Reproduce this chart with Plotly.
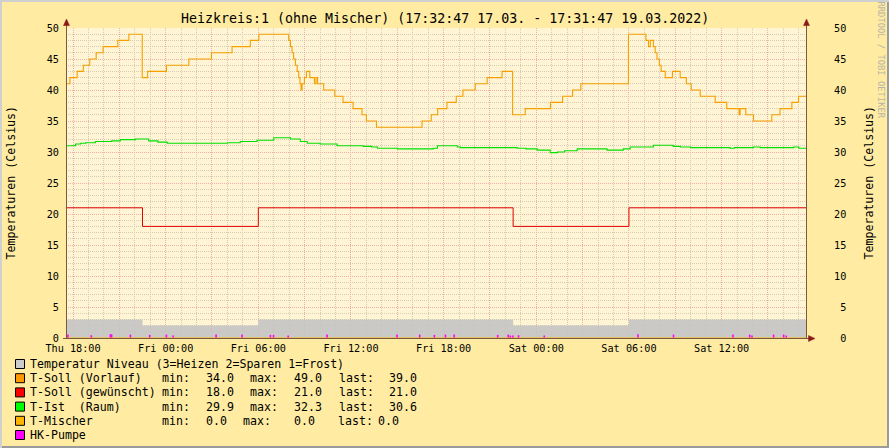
import plotly.graph_objects as go

# ---------------- data ----------------
T_START = "2022-03-17 17:32:47"
T_END = "2022-03-19 17:31:47"

niveau_t = ["2022-03-17 17:32:47", "2022-03-17 22:30", "2022-03-18 06:00",
            "2022-03-18 22:30", "2022-03-19 06:00", "2022-03-19 17:31:47"]
niveau_v = [3, 2, 3, 2, 3, 3]

gew_t = niveau_t
gew_v = [21, 18, 21, 18, 21, 21]

vorlauf_t = [
    "2022-03-17 17:32:47", "2022-03-17 17:48", "2022-03-17 18:16", "2022-03-17 18:40",
    "2022-03-17 19:05", "2022-03-17 19:30", "2022-03-17 19:57", "2022-03-17 20:54",
    "2022-03-17 21:37", "2022-03-17 22:29", "2022-03-17 22:50", "2022-03-18 00:03",
    "2022-03-18 01:30", "2022-03-18 02:58", "2022-03-18 04:18", "2022-03-18 05:29",
    "2022-03-18 06:02", "2022-03-18 07:58", "2022-03-18 08:05", "2022-03-18 08:11",
    "2022-03-18 08:17", "2022-03-18 08:24", "2022-03-18 08:31", "2022-03-18 08:37",
    "2022-03-18 08:42", "2022-03-18 08:46", "2022-03-18 08:50", "2022-03-18 08:59",
    "2022-03-18 09:07", "2022-03-18 09:20", "2022-03-18 09:38", "2022-03-18 09:44",
    "2022-03-18 09:50", "2022-03-18 10:14", "2022-03-18 10:57", "2022-03-18 11:29",
    "2022-03-18 12:08", "2022-03-18 12:43", "2022-03-18 13:00", "2022-03-18 13:39",
    "2022-03-18 16:36", "2022-03-18 17:12", "2022-03-18 17:37", "2022-03-18 18:13",
    "2022-03-18 18:49", "2022-03-18 19:15", "2022-03-18 20:03", "2022-03-18 20:49",
    "2022-03-18 21:47", "2022-03-18 22:28", "2022-03-18 23:17", "2022-03-19 00:55",
    "2022-03-19 01:42", "2022-03-19 02:21", "2022-03-19 02:53", "2022-03-19 05:58",
    "2022-03-19 07:06", "2022-03-19 07:16", "2022-03-19 07:23", "2022-03-19 07:35",
    "2022-03-19 07:42", "2022-03-19 07:49", "2022-03-19 07:58", "2022-03-19 08:05",
    "2022-03-19 08:21", "2022-03-19 08:49", "2022-03-19 09:19", "2022-03-19 09:43",
    "2022-03-19 10:02", "2022-03-19 10:37", "2022-03-19 11:35", "2022-03-19 12:20",
    "2022-03-19 13:08", "2022-03-19 13:12", "2022-03-19 13:34", "2022-03-19 14:04",
    "2022-03-19 15:15", "2022-03-19 15:47", "2022-03-19 16:33", "2022-03-19 16:59",
    "2022-03-19 17:31:47",
]
vorlauf_v = [
    41, 42, 43, 44, 45, 46, 47, 48, 49, 42, 43, 44, 45, 46, 47, 48,
    49, 48, 47, 46, 45, 44, 43, 42, 41, 40, 41, 42, 43, 42, 41, 42,
    41, 40, 39, 38, 37, 36, 35, 34, 35, 36, 37, 38, 39, 40, 41, 42,
    43, 36, 37, 38, 39, 40, 41, 49, 48, 47, 48, 47, 46, 45, 44, 43,
    42, 43, 42, 41, 40, 39, 38, 37, 36, 37, 36, 35, 36, 37, 38, 39,
    39,
]

ist_t = [
    "2022-03-17 17:32:47", "2022-03-17 18:10", "2022-03-17 18:30", "2022-03-17 18:49",
    "2022-03-17 19:27", "2022-03-17 20:30", "2022-03-17 21:04", "2022-03-17 22:03",
    "2022-03-17 22:54", "2022-03-17 23:30", "2022-03-18 00:06", "2022-03-18 04:00",
    "2022-03-18 04:50", "2022-03-18 05:55", "2022-03-18 07:00", "2022-03-18 08:05",
    "2022-03-18 08:43", "2022-03-18 09:10", "2022-03-18 10:00", "2022-03-18 11:06",
    "2022-03-18 12:48", "2022-03-18 13:20", "2022-03-18 13:43", "2022-03-18 15:00",
    "2022-03-18 17:20", "2022-03-18 17:36", "2022-03-18 18:53", "2022-03-18 19:05",
    "2022-03-18 22:46", "2022-03-18 23:20", "2022-03-19 00:04", "2022-03-19 00:54",
    "2022-03-19 01:22", "2022-03-19 01:50", "2022-03-19 02:39", "2022-03-19 04:35",
    "2022-03-19 05:38", "2022-03-19 06:05", "2022-03-19 07:35", "2022-03-19 08:52",
    "2022-03-19 09:20", "2022-03-19 10:00", "2022-03-19 12:33", "2022-03-19 12:50",
    "2022-03-19 14:04", "2022-03-19 14:30", "2022-03-19 16:40", "2022-03-19 17:00",
    "2022-03-19 17:31:47",
]
ist_v = [
    31.0, 31.3, 31.4, 31.5, 31.7, 31.8, 32.0, 32.1,
    31.8, 31.6, 31.4, 31.5, 31.7, 31.9, 32.3, 32.1,
    31.7, 31.4, 31.3, 31.0, 30.9, 30.8, 30.6, 30.5,
    30.6, 31.0, 30.8, 30.7, 30.6, 30.5, 30.3, 29.9,
    30.0, 30.2, 30.5, 30.3, 30.5, 30.8, 31.1, 30.9,
    30.8, 30.7, 30.6, 30.7, 30.8, 30.7, 30.8, 30.6,
    30.6,
]

mischer_t = [T_START, T_END]
mischer_v = [0.0, 0.0]

pumpe_t = [
    "2022-03-17 17:40", "2022-03-17 19:11", "2022-03-17 20:25", "2022-03-17 20:30",
    "2022-03-17 21:43", "2022-03-17 22:58", "2022-03-18 00:03", "2022-03-18 00:29",
    "2022-03-18 03:16", "2022-03-18 04:57", "2022-03-18 06:47", "2022-03-18 06:59",
    "2022-03-18 07:56", "2022-03-18 10:27", "2022-03-18 14:59", "2022-03-18 16:27",
    "2022-03-18 17:24", "2022-03-18 18:07", "2022-03-18 18:41", "2022-03-18 21:30",
    "2022-03-18 22:11", "2022-03-18 22:19", "2022-03-18 22:29", "2022-03-18 22:51",
    "2022-03-19 00:31", "2022-03-19 06:35", "2022-03-19 08:53", "2022-03-19 12:44",
    "2022-03-19 13:49", "2022-03-19 13:58", "2022-03-19 15:22", "2022-03-19 16:01",
    "2022-03-19 16:11",
]
pumpe_v = [
    0.55, 0.45, 0.6, 0.6, 0.55, 0.5, 0.55, 0.4,
    0.55, 0.55, 0.5, 0.5, 0.4, 0.55, 0.55, 0.55,
    0.5, 0.55, 0.55, 0.5, 0.55, 0.4, 0.4, 0.45,
    0.4, 0.6, 0.55, 0.55, 0.55, 0.4, 0.55, 0.55,
    0.4,
]

x_tick_vals = [
    "2022-03-17 18:00", "2022-03-17 21:00", "2022-03-18 00:00", "2022-03-18 03:00",
    "2022-03-18 06:00", "2022-03-18 09:00", "2022-03-18 12:00", "2022-03-18 15:00",
    "2022-03-18 18:00", "2022-03-18 21:00", "2022-03-19 00:00", "2022-03-19 03:00",
    "2022-03-19 06:00", "2022-03-19 09:00", "2022-03-19 12:00", "2022-03-19 15:00",
]
x_tick_text = [
    "Thu 18:00", "", "Fri 00:00", "", "Fri 06:00", "", "Fri 12:00", "",
    "Fri 18:00", "", "Sat 00:00", "", "Sat 06:00", "", "Sat 12:00", "",
]
y_tick_vals = [0, 5, 10, 15, 20, 25, 30, 35, 40, 45, 50]
y_tick_text = ["0", "5", "10", "15", "20", "25", "30", "35", "40", "45", "50"]

title_text = "Heizkreis:1 (ohne Mischer) (17:32:47 17.03. - 17:31:47 19.03.2022)"
y_title = "Temperaturen (Celsius)"
watermark = "RRDTOOL / TOBI OETIKER"

legend_labels = ["Temperatur Niveau (3=Heizen 2=Sparen 1=Frost)", "T-Soll (Vorlauf)",
                 "T-Soll (gewünscht)", "T-Ist  (Raum)", "T-Mischer", "HK-Pumpe"]
legend_colors = ["#CCCCCC", "#FF9900", "#FF0000", "#00FF00", "#FFB400", "#FF00FF"]
stat_min = [None, "34.0", "18.0", "29.9", "0.0", None]
stat_max = [None, "49.0", "21.0", "32.3", "0.0", None]
stat_last = [None, "39.0", "21.0", "30.6", "0.0", None]

# ---------------- layout geometry ----------------
W, H = 889, 448
ML, MR, MT, MB = 66, 82, 28, 110
PW = W - ML - MR
PH = H - MT - MB
FONT = "DejaVu Sans Mono"


def px(x):
    return (x - ML) / PW


def py(y):
    return (H - MB - y) / PH


fig = go.Figure()

fig.add_trace(go.Scatter(x=niveau_t, y=niveau_v, mode="lines", line=dict(width=0, shape="hv"),
                         fill="tozeroy", fillcolor="rgba(196,196,196,0.9)", hoverinfo="skip"))
fig.add_trace(go.Scatter(x=pumpe_t, y=pumpe_v, mode="markers", marker=dict(size=0.1, opacity=0),
                         error_y=dict(type="percent", symmetric=False, value=0, valueminus=100,
                                      color="#FF00FF", thickness=1.6, width=0),
                         hoverinfo="skip"))
fig.add_trace(go.Scatter(x=mischer_t, y=mischer_v, mode="lines", line=dict(color="#FFB400", width=1)))
fig.add_trace(go.Scatter(x=gew_t, y=gew_v, mode="lines", line=dict(color="#E00000", width=1, shape="hv")))
fig.add_trace(go.Scatter(x=ist_t, y=ist_v, mode="lines", line=dict(color="#00E000", width=1.1, shape="hv")))
fig.add_trace(go.Scatter(x=vorlauf_t, y=vorlauf_v, mode="lines",
                         line=dict(color="#F5A000", width=1.1, shape="hv")))
fig.add_trace(go.Scatter(x=[T_START], y=[0], yaxis="y2", mode="markers",
                         marker=dict(opacity=0), hoverinfo="skip"))

MAJOR = "#F2AFA8"
MINOR = "#D6CCB6"

fig.update_layout(
    width=W, height=H,
    margin=dict(l=ML, r=MR, t=MT, b=MB, pad=0),
    paper_bgcolor="#FFECA2",
    plot_bgcolor="#FFF5D4",
    showlegend=False,
    font=dict(family=FONT, size=10.2, color="#000000"),
    xaxis=dict(
        type="date", range=[T_START, T_END],
        tickmode="array", tickvals=x_tick_vals, ticktext=x_tick_text,
        showgrid=True, gridcolor=MAJOR, griddash="1px,1px", gridwidth=1,
        minor=dict(dtick=3600000, tick0="2022-03-17 18:00", showgrid=True,
                   gridcolor=MINOR, griddash="1px,1px", gridwidth=1),
        ticks="", showline=False, zeroline=False,
        tickfont=dict(family=FONT, size=10.2, color="#000000"),
        ticklabelstandoff=3,
    ),
    yaxis=dict(
        range=[0, 50], tickmode="array", tickvals=y_tick_vals, ticktext=y_tick_text,
        showgrid=True, gridcolor=MAJOR, griddash="1px,1px", gridwidth=1,
        minor=dict(dtick=1, showgrid=True, gridcolor=MINOR, griddash="1px,1px", gridwidth=1),
        ticks="", showline=False, zeroline=False,
        tickfont=dict(family=FONT, size=10.2, color="#000000"),
        ticklabelstandoff=6,
    ),
    yaxis2=dict(
        range=[0, 50], overlaying="y", side="right", tickmode="array", tickvals=y_tick_vals,
        ticktext=[t.rjust(2).replace(" ", "\u00a0") for t in y_tick_text],
        showgrid=False, ticks="", showline=False, zeroline=False,
        tickfont=dict(family=FONT, size=10.2, color="#000000"),
        ticklabelstandoff=26,
    ),
)

shapes = []
AXC = "#7A5A3A"
ARC = "#8B1A1A"
# frame (3D border)
shapes.append(dict(type="rect", xref="paper", yref="paper", x0=px(0), x1=px(W), y0=py(0), y1=py(2),
                   fillcolor="#D0D0D0", line=dict(width=0), layer="above"))
shapes.append(dict(type="rect", xref="paper", yref="paper", x0=px(0), x1=px(2), y0=py(0), y1=py(H),
                   fillcolor="#D0D0D0", line=dict(width=0), layer="above"))
shapes.append(dict(type="rect", xref="paper", yref="paper", x0=px(2), x1=px(W), y0=py(H - 2), y1=py(H),
                   fillcolor="#9A9A9A", line=dict(width=0), layer="above"))
shapes.append(dict(type="rect", xref="paper", yref="paper", x0=px(W - 2), x1=px(W), y0=py(2), y1=py(H),
                   fillcolor="#9A9A9A", line=dict(width=0), layer="above"))
# axes
shapes.append(dict(type="line", xref="paper", yref="paper", x0=px(66.5), x1=px(66.5), y0=py(338), y1=py(22),
                   line=dict(color=AXC, width=1), layer="above"))
shapes.append(dict(type="line", xref="paper", yref="paper", x0=px(806.5), x1=px(806.5), y0=py(338), y1=py(22),
                   line=dict(color=AXC, width=1), layer="above"))
shapes.append(dict(type="line", xref="paper", yref="paper", x0=px(63), x1=px(811), y0=py(338.5), y1=py(338.5),
                   line=dict(color=AXC, width=1), layer="above"))


def tri(points):
    p = "M" + " L".join(f"{px(a):.5f},{py(b):.5f}" for a, b in points) + " Z"
    return dict(type="path", xref="paper", yref="paper", path=p, fillcolor=ARC,
                line=dict(color=ARC, width=0.5), layer="above")


shapes.append(tri([(63.5, 25.5), (69.5, 25.5), (66.5, 19)]))
shapes.append(tri([(803.5, 25.5), (809.5, 25.5), (806.5, 19)]))
shapes.append(tri([(808.5, 335.5), (808.5, 341.5), (815, 338.5)]))

# legend boxes
row_y = [364, 378.2, 392.4, 406.6, 420.8, 435]
for i, c in enumerate(legend_colors):
    shapes.append(dict(type="rect", xref="paper", yref="paper", x0=px(15.5), x1=px(24.5),
                       y0=py(row_y[i] - 4.5), y1=py(row_y[i] + 4.5),
                       fillcolor=c, line=dict(color="#000000", width=1)))
fig.update_layout(shapes=shapes)

ann = []
ann.append(dict(text=title_text, xref="paper", yref="paper", x=px(W / 2), y=py(19), xanchor="center",
                yanchor="middle", showarrow=False, font=dict(family=FONT, size=13.3, color="#000000")))
ann.append(dict(text=y_title, xref="paper", yref="paper", x=px(10.5), y=py(183), textangle=-90,
                xanchor="center", yanchor="middle", showarrow=False,
                font=dict(family=FONT, size=11.6, color="#000000")))
ann.append(dict(text=y_title, xref="paper", yref="paper", x=px(868.5), y=py(183), textangle=-90,
                xanchor="center", yanchor="middle", showarrow=False,
                font=dict(family=FONT, size=11.6, color="#000000")))
ann.append(dict(text=watermark, xref="paper", yref="paper", x=px(880.5), y=py(60), textangle=90,
                xanchor="center", yanchor="middle", showarrow=False,
                font=dict(family=FONT, size=8.8, color="#B8B4A8")))

LF = dict(family=FONT, size=11.6, color="#000000")
col_std = [160.8, 205.4, 248.8, 293.2, 338.0, 388.0]
col_misch = [160.8, 205.4, 242.0, 293.2, 337.3, 376.5]
for i, lab in enumerate(legend_labels):
    ann.append(dict(text=lab.replace(" ", "\u00a0"), xref="paper", yref="paper", x=px(28.6), y=py(row_y[i]),
                    xanchor="left", yanchor="middle", showarrow=False, font=LF, borderpad=0))
    if stat_min[i] is not None:
        cols = col_misch if lab == "T-Mischer" else col_std
        parts = ["min:", stat_min[i], "max:", stat_max[i], "last:", stat_last[i]]
        for xx, t in zip(cols, parts):
            ann.append(dict(text=t, xref="paper", yref="paper", x=px(xx), y=py(row_y[i]),
                            xanchor="left", yanchor="middle", showarrow=False, font=LF, borderpad=0))
fig.update_layout(annotations=ann)

fig.write_html("out.html", config={"displayModeBar": False},
               post_script="document.body.style.margin='0px';document.body.style.overflow='hidden';")
